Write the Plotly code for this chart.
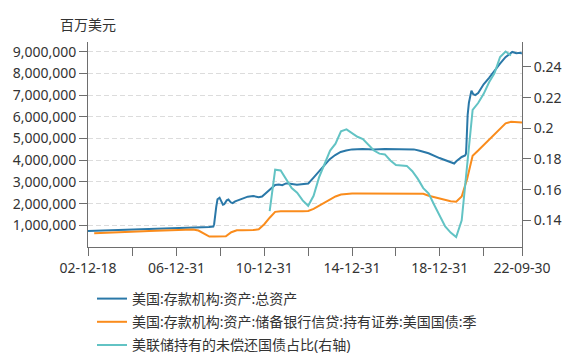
import plotly.graph_objects as go

# ---------------- data ----------------
# 美国:存款机构:资产:总资产 (百万美元), irregular key dates
total_dates = [
    "2002-12-18", "2003-06-25", "2003-12-31", "2004-06-30", "2004-12-29", "2005-06-29",
    "2005-12-28", "2006-06-28", "2006-12-27", "2007-06-27", "2007-10-31", "2007-12-26",
    "2008-02-27", "2008-06-25", "2008-09-03", "2008-09-17", "2008-10-01", "2008-10-22",
    "2008-11-12", "2008-12-17", "2009-01-07", "2009-02-11", "2009-03-04", "2009-04-15",
    "2009-05-13", "2009-06-24", "2009-07-22", "2009-09-02", "2009-10-28", "2009-12-30",
    "2010-03-31", "2010-06-30", "2010-09-29", "2010-11-24", "2011-01-26", "2011-03-30",
    "2011-06-29", "2011-08-31", "2011-10-26", "2011-12-28", "2012-02-08", "2012-06-27",
    "2012-11-28", "2013-01-02", "2013-03-27", "2013-06-26", "2013-09-25", "2013-12-25",
    "2014-03-26", "2014-06-25", "2014-09-24", "2014-12-31", "2015-06-24", "2015-12-30",
    "2016-06-29", "2016-12-28", "2017-06-28", "2017-10-25", "2018-01-31", "2018-06-27",
    "2018-12-26", "2019-05-29", "2019-08-28", "2019-10-02", "2019-11-27", "2019-12-31",
    "2020-02-26", "2020-03-11", "2020-03-18", "2020-03-25", "2020-04-08", "2020-04-29",
    "2020-05-27", "2020-06-10", "2020-07-08", "2020-08-12", "2020-09-30", "2020-12-30",
    "2021-03-31", "2021-06-30", "2021-09-29", "2021-12-29", "2022-03-30", "2022-04-20",
    "2022-06-29", "2022-08-31", "2022-09-28",
]
total_assets = [
    740000, 760000, 770000, 790000, 810000, 830000,
    850000, 860000, 870000, 890000, 900000, 930000,
    910000, 920000, 940000, 1050000, 1500000, 1850000,
    2200000, 2270000, 2150000, 1950000, 1970000, 2150000,
    2190000, 2050000, 2020000, 2100000, 2160000, 2240000,
    2320000, 2350000, 2300000, 2330000, 2480000, 2650000,
    2860000, 2880000, 2850000, 2930000, 2930000, 2870000,
    2900000, 2930000, 3190000, 3480000, 3750000, 4050000,
    4240000, 4380000, 4450000, 4500000, 4520000, 4500000,
    4520000, 4510000, 4520000, 4500000, 4440000, 4320000,
    4100000, 3930000, 3850000, 3950000, 4080000, 4150000,
    4220000, 4300000, 4650000, 5300000, 6080000, 6650000,
    7050000, 7210000, 7050000, 7000000, 7100000, 7500000,
    7800000, 8150000, 8450000, 8750000, 8950000, 8990000,
    8930000, 8950000, 8920000,
]

# 美国:存款机构:资产:储备银行信贷:持有证券:美国国债:季 (quarterly, 2003Q1 - 2022Q3)
quarter_ends = ["03-31", "06-30", "09-30", "12-31"]
treasury_dates = [f"{y}-{q}" for y in range(2003, 2023) for q in quarter_ends][:79]
treasury_held = [
    630000, 645000, 655000, 666000,
    675000, 690000, 700000, 710000,
    720000, 730000, 738000, 745000,
    752000, 762000, 772000, 780000,
    790000, 800000, 810000, 760000,
    600000, 480000, 480000, 476000,
    490000, 680000, 770000, 777000,
    780000, 780000, 820000, 1050000,
    1350000, 1620000, 1650000, 1660000,
    1660000, 1650000, 1650000, 1660000,
    1760000, 1900000, 2060000, 2210000,
    2330000, 2420000, 2460000, 2470000,
    2470000, 2470000, 2470000, 2470000,
    2470000, 2470000, 2470000, 2470000,
    2470000, 2470000, 2470000, 2460000,
    2450000, 2360000, 2290000, 2220000,
    2160000, 2110000, 2090000, 2330000,
    3150000, 4210000, 4450000, 4700000,
    4950000, 5200000, 5450000, 5700000,
    5770000, 5770000, 5740000,
]

# 美联储持有的未偿还国债占比(右轴) (quarterly, 2011Q1 - 2022Q1)
share_dates = [f"{y}-{q}" for y in range(2011, 2023) for q in quarter_ends][:45]
fed_share = [
    0.146, 0.173, 0.1725, 0.167,
    0.161, 0.158, 0.153, 0.1495,
    0.156, 0.168, 0.177, 0.1855,
    0.190, 0.198, 0.1993, 0.197,
    0.1945, 0.193, 0.189, 0.1855,
    0.1835, 0.183, 0.179, 0.176,
    0.1758, 0.1755, 0.172, 0.167,
    0.161, 0.1574, 0.150, 0.143,
    0.136, 0.132, 0.1291, 0.140,
    0.177, 0.212, 0.2165, 0.2225,
    0.230, 0.236, 0.2465, 0.2501,
    0.2475,
]

x_tick_dates = ["2002-12-18", "2004-12-31", "2006-12-31", "2008-12-31", "2010-12-31",
                "2012-12-31", "2014-12-31", "2016-12-31", "2018-12-31", "2020-12-31",
                "2022-09-30"]
x_tick_text = ["02-12-18", "", "06-12-31", "", "10-12-31", "", "14-12-31", "",
               "18-12-31", "", "22-09-30"]
y_left_ticks = [1000000, 2000000, 3000000, 4000000, 5000000, 6000000, 7000000, 8000000, 9000000]
y_right_ticks = [0.14, 0.16, 0.18, 0.20, 0.22, 0.24]

names = ["美国:存款机构:资产:总资产",
         "美国:存款机构:资产:储备银行信贷:持有证券:美国国债:季",
         "美联储持有的未偿还国债占比(右轴)"]
colors = ["#2a78a8", "#fa8c1c", "#62c3c4"]

# ---------------- figure ----------------
FONT = "Noto Sans, Noto Sans CJK SC, sans-serif"
TXT = "#333333"
AX = "#6e6e6e"

fig = go.Figure()
fig.add_trace(go.Scatter(x=total_dates, y=total_assets, name=names[0], mode="lines",
                         legendgroup="a", line=dict(color=colors[0], width=2)))
fig.add_trace(go.Scatter(x=treasury_dates, y=treasury_held, name=names[1], mode="lines",
                         legendgroup="b", line=dict(color=colors[1], width=2)))
fig.add_trace(go.Scatter(x=share_dates, y=fed_share, name=names[2], mode="lines",
                         legendgroup="c", line=dict(color=colors[2], width=2), yaxis="y2"))

fig.update_layout(
    width=565, height=353,
    margin=dict(l=88, r=43, t=42, b=106, autoexpand=False),
    paper_bgcolor="white", plot_bgcolor="white",
    font=dict(family=FONT, size=14, color=TXT),
    showlegend=True,
    legend=dict(orientation="v", xref="container", yref="container",
                x=92 / 565, xanchor="left", y=1 - 283 / 353, yanchor="top",
                font=dict(size=14, color=TXT), itemwidth=30, tracegroupgap=2,
                bgcolor="rgba(0,0,0,0)"),
    xaxis=dict(type="date", range=["2002-12-18", "2022-09-30"],
               tickmode="array", tickvals=x_tick_dates, ticktext=x_tick_text,
               showline=True, linecolor=AX, linewidth=1,
               ticks="outside", ticklen=8, tickcolor=AX,
               showgrid=False, zeroline=False,
               tickfont=dict(size=14, color=TXT)),
    yaxis=dict(range=[0, 9450000], tickmode="array", tickvals=y_left_ticks,
               tickformat=",d", showline=True, linecolor=AX, linewidth=1,
               ticks="outside", ticklen=8, tickcolor=AX,
               showgrid=True, gridcolor="#dcdcdc", griddash="5px,3px", gridwidth=1,
               zeroline=False, tickfont=dict(size=14, color=TXT)),
    yaxis2=dict(range=[0.1226, 0.2563], overlaying="y", side="right",
                tickmode="array", tickvals=y_right_ticks,
                ticktext=["0.14", "0.16", "0.18", "0.2", "0.22", "0.24"],
                showline=True, linecolor=AX, linewidth=1,
                ticks="outside", ticklen=8, tickcolor=AX,
                showgrid=False, zeroline=False, tickfont=dict(size=14, color=TXT)),
    annotations=[dict(text="百万美元", xref="paper", yref="paper", x=0, y=1.083,
                      xanchor="center", yanchor="middle", showarrow=False,
                      font=dict(size=14, color=TXT))],
)

fig.write_html("out.html")
